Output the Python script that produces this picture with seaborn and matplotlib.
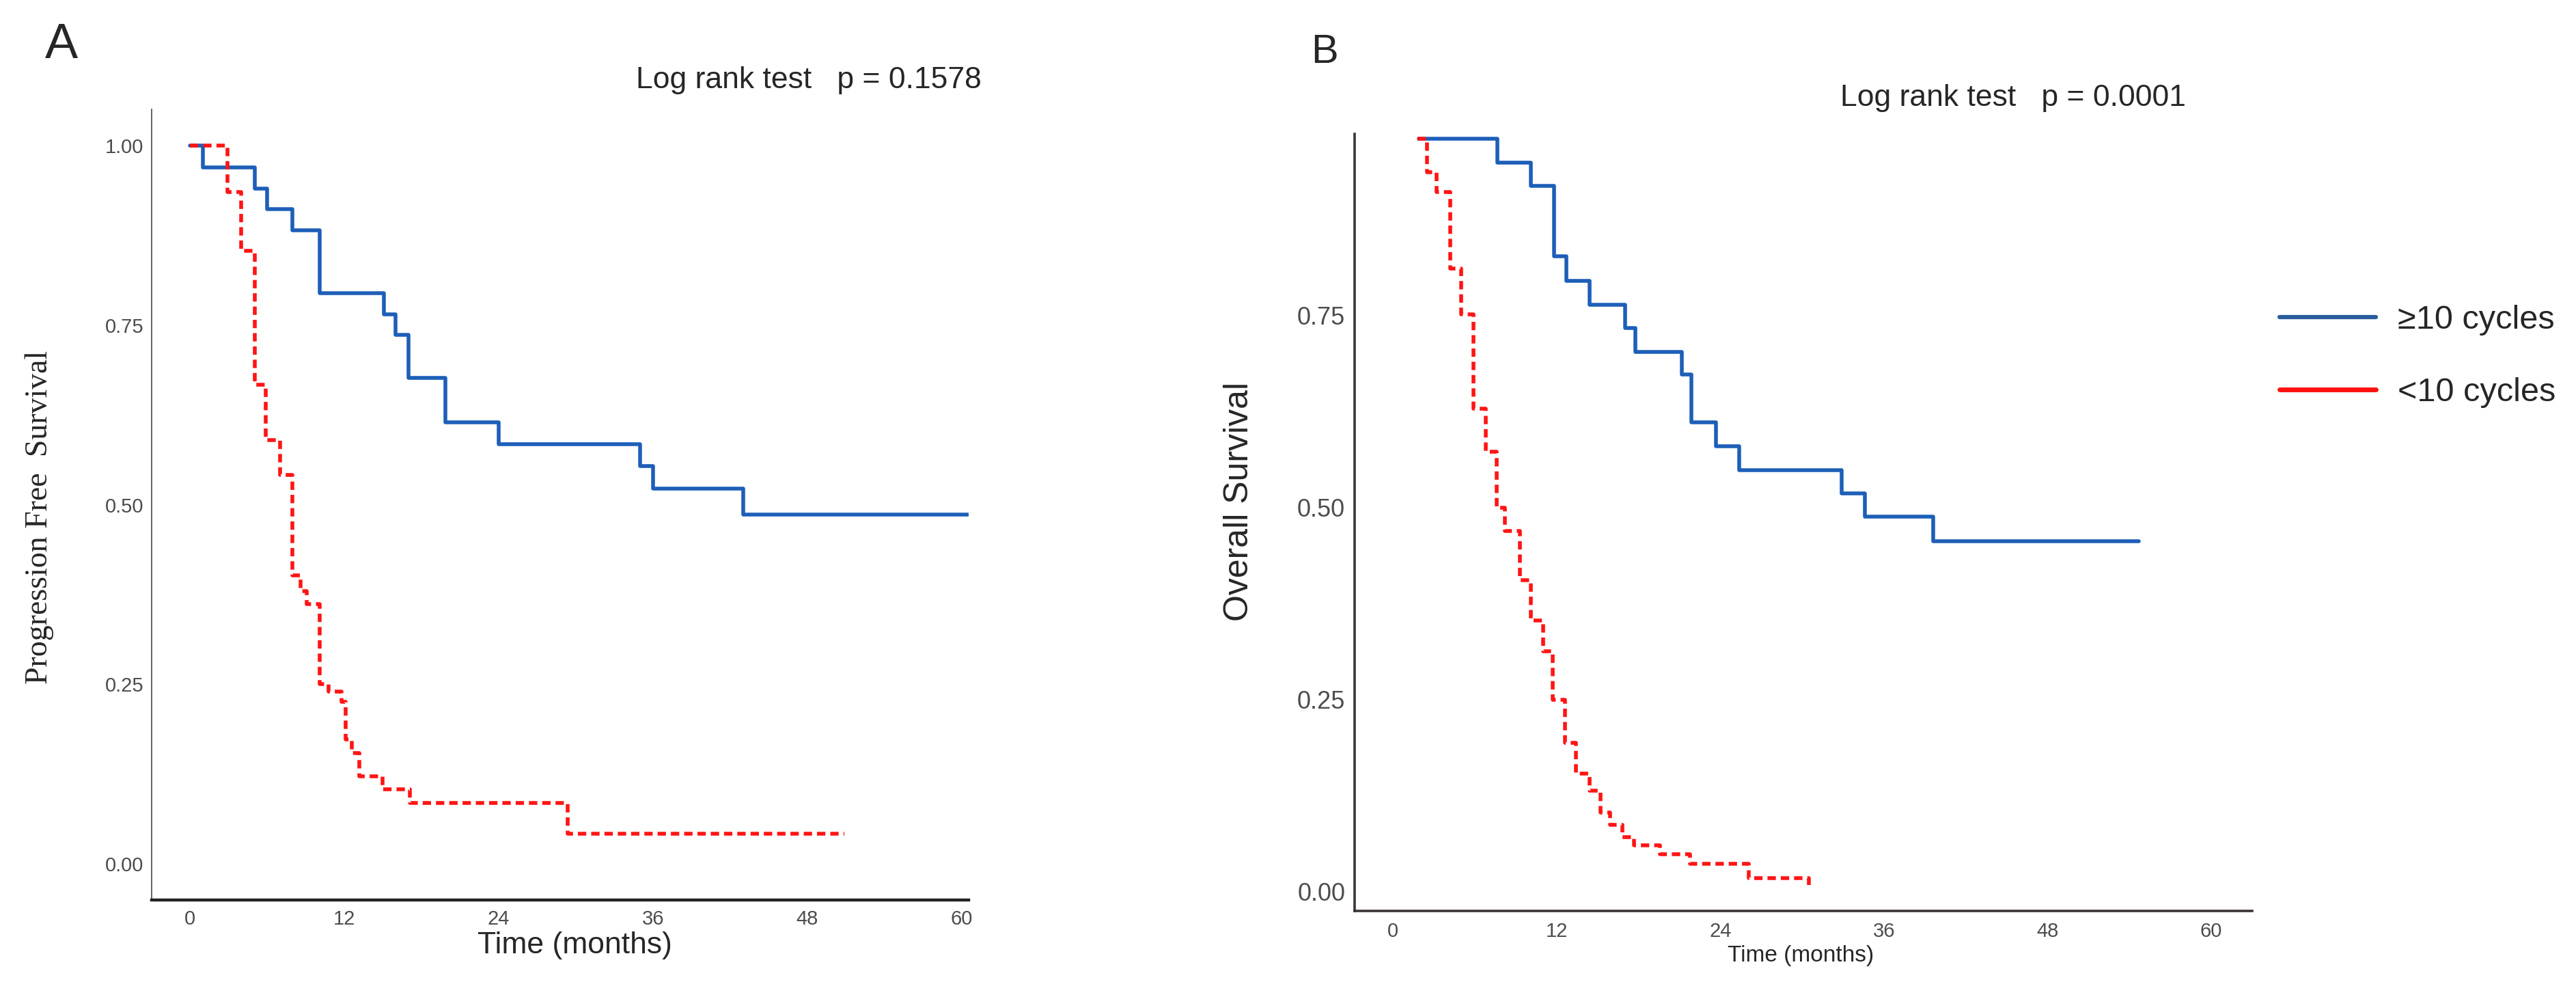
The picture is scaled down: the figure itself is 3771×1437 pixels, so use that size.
import matplotlib
matplotlib.use("Agg")
import matplotlib.pyplot as plt
from matplotlib.lines import Line2D
import pandas as pd
import seaborn as sns

# groups
groups = ["≥10 cycles", "<10 cycles"]
colors = {"≥10 cycles": "#1d5fb8", "<10 cycles": "#ff1414"}

# panel A: progression free survival (step values)
pfs_hi_time = [0, 1.0, 5.05, 6.0, 8.0, 10.1, 15.1, 16.0, 17.0, 19.9, 24.0, 35.0, 36.0, 43.0, 60.5]
pfs_hi_surv = [1.0, 0.969, 0.940, 0.911, 0.882, 0.794, 0.765, 0.736, 0.676, 0.615, 0.584, 0.554, 0.522, 0.486, 0.486]
pfs_lo_time = [0, 2.95, 4.0, 5.05, 5.9, 7.0, 8.0, 8.6, 9.1, 10.1, 10.8, 11.8, 12.1, 12.6, 13.2, 15.0, 17.1, 29.4, 50.9]
pfs_lo_surv = [1.0, 0.935, 0.853, 0.667, 0.590, 0.541, 0.402, 0.380, 0.362, 0.250, 0.240, 0.226, 0.173, 0.154, 0.122, 0.104, 0.085, 0.042, 0.042]

# panel B: overall survival
os_hi_time = [1.9, 7.65, 10.1, 11.8, 12.7, 14.4, 17.0, 17.8, 21.2, 21.9, 23.7, 25.4, 32.9, 34.6, 39.6, 54.7]
os_hi_surv = [0.98, 0.949, 0.919, 0.827, 0.795, 0.764, 0.734, 0.703, 0.673, 0.611, 0.580, 0.549, 0.519, 0.488, 0.456, 0.456]
os_lo_time = [1.8, 2.5, 3.2, 4.2, 5.0, 5.9, 6.8, 7.6, 8.2, 9.3, 10.1, 11.0, 11.7, 12.6, 13.4, 14.4, 15.2, 15.9, 16.8, 17.7, 19.6, 21.8, 26.1, 30.4, 30.5]
os_lo_surv = [0.98, 0.937, 0.911, 0.811, 0.752, 0.629, 0.573, 0.500, 0.470, 0.406, 0.353, 0.313, 0.250, 0.194, 0.154, 0.132, 0.103, 0.087, 0.071, 0.060, 0.049, 0.036, 0.018, 0.018, 0.003]

x_ticks = [0, 12, 24, 36, 48, 60]
y_ticks_a = [0.0, 0.25, 0.5, 0.75, 1.0]
y_ticks_b = [0.0, 0.25, 0.5, 0.75]


def make_df(hi_t, hi_s, lo_t, lo_s):
    d1 = pd.DataFrame({"time": hi_t, "surv": hi_s, "group": groups[0]})
    d2 = pd.DataFrame({"time": lo_t, "surv": lo_s, "group": groups[1]})
    return pd.concat([d1, d2], ignore_index=True)


df_a = make_df(pfs_hi_time, pfs_hi_surv, pfs_lo_time, pfs_lo_surv)
df_b = make_df(os_hi_time, os_hi_surv, os_lo_time, os_lo_surv)

sns.set_style("white")
plt.rcParams["font.family"] = ["Liberation Sans", "DejaVu Sans"]

fig = plt.figure(figsize=(37.71, 14.37), dpi=100)
ax_a = fig.add_axes([0.0589, 0.0835, 0.3172, 0.8051])
ax_b = fig.add_axes([0.5259, 0.0724, 0.3484, 0.7912])

dash_map = {groups[0]: "", groups[1]: (2.2, 1.3)}

for ax, df in [(ax_a, df_a), (ax_b, df_b)]:
    sns.lineplot(data=df, x="time", y="surv", hue="group", style="group",
                 palette=colors, dashes=dash_map, hue_order=groups, style_order=groups,
                 estimator=None, sort=False, drawstyle="steps-post",
                 linewidth=4, legend=False, ax=ax)
    ax.spines["top"].set_visible(False)
    ax.spines["right"].set_visible(False)
    ax.set_xticks(x_ticks)
    ax.tick_params(length=4.3, width=1.5, colors="#333333", labelcolor="#4d4d4d")

# panel A styling
ax_a.set_xlim(-2.95, 60.56)
ax_a.set_ylim(-0.05, 1.05)
ax_a.set_yticks(y_ticks_a)
ax_a.set_yticklabels([f"{v:.2f}" for v in y_ticks_a], fontsize=21)
ax_a.set_xticklabels([str(v) for v in x_ticks], fontsize=21)
ax_a.tick_params(axis="y", pad=4)
ax_a.tick_params(axis="x", pad=6)
ax_a.spines["left"].set_linewidth(1.3)
ax_a.spines["left"].set_color("#555555")
ax_a.spines["bottom"].set_linewidth(3.2)
ax_a.spines["bottom"].set_color("#222222")
ax_a.set_xlabel("Time (months)", fontsize=32)
ax_a.set_ylabel("Progression Free  Survival", family=["Liberation Serif", "DejaVu Serif"], fontsize=33)
ax_a.xaxis.set_label_coords(0.518, -0.040)
ax_a.yaxis.set_label_coords(-0.120, 0.484)

# panel B styling
ax_b.set_xlim(-2.8, 63.0)
ax_b.set_ylim(-0.025, 0.9866)
ax_b.set_yticks(y_ticks_b)
ax_b.set_yticklabels([f"{v:.2f}" for v in y_ticks_b], fontsize=26)
ax_b.set_xticklabels([str(v) for v in x_ticks], fontsize=21)
ax_b.tick_params(axis="y", pad=5.8)
ax_b.tick_params(axis="x", pad=7)
for s in ["left", "bottom"]:
    ax_b.spines[s].set_linewidth(2.6)
    ax_b.spines[s].set_color("#3d3535")
ax_b.set_xlabel("Time (months)", fontsize=24)
ax_b.set_ylabel("Overall Survival", fontsize=36)
ax_b.xaxis.set_label_coords(0.497, -0.044)
ax_b.yaxis.set_label_coords(-0.111, 0.527)

# panel letters and test results
fig.text(0.0175, 0.9408, "A", fontsize=52, va="baseline")
fig.text(0.5089, 0.936, "B", fontsize=43, va="baseline")
fig.text(0.314, 0.910, "Log rank test   p = 0.1578", fontsize=32, ha="center", va="baseline")
fig.text(0.7815, 0.892, "Log rank test   p = 0.0001", fontsize=32, ha="center", va="baseline")

# legend (solid handles as in the original)
handles = [Line2D([], [], color="#2a5c9e", lw=4.5), Line2D([], [], color="#ff1010", lw=5)]
fig.legend(handles, groups, loc="upper left", bbox_to_anchor=(0.8849, 0.6896),
           frameon=False, fontsize=35, handlelength=2.9, handletextpad=0.66,
           labelspacing=1.25, borderpad=0, borderaxespad=0)

fig.savefig("out.png", dpi=100, facecolor="white")
